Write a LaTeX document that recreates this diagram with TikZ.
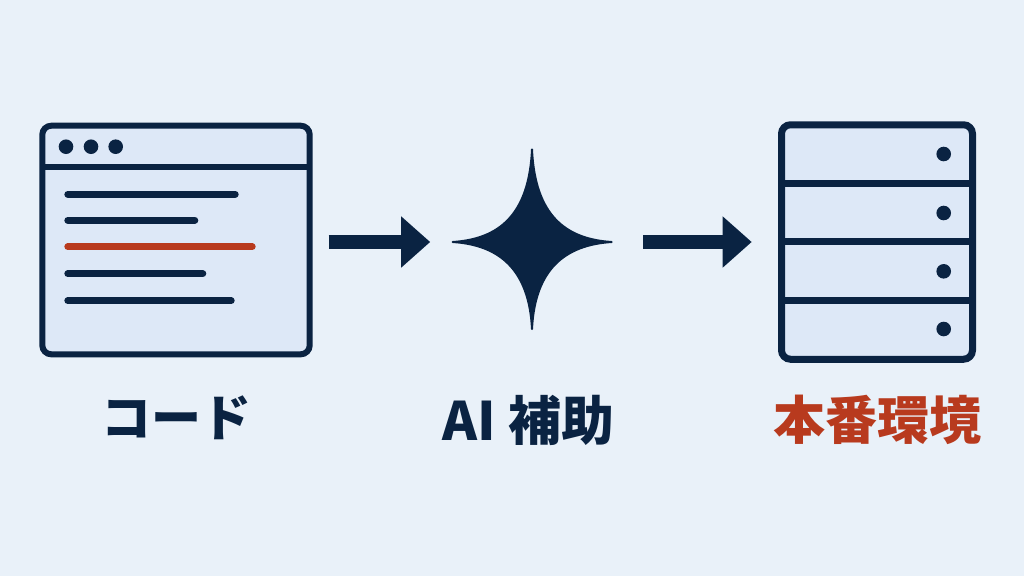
\documentclass[tikz,border=0pt]{standalone}
\usepackage{fontspec}
\newfontfamily\cjk{Noto Sans CJK JP}
\usepackage{tikz}
\usetikzlibrary{ % tikz packages
    positioning,
    arrows.meta
}
\definecolor{pagebg}{HTML}{E9F1F9}
\definecolor{panelbg}{HTML}{DDE8F7}
\definecolor{navy}{HTML}{0A2342}
\definecolor{rust}{HTML}{B83A1E}
\tikzset{iconbox/.style={
    draw=navy,
    fill=panelbg,
    rounded corners=9pt,
    inner sep=0pt,
    outer sep=0pt
}}
\tikzset{dotmark/.style={
    circle,
    fill=navy,
    inner sep=0pt,
    minimum size=14.6pt
}}
\tikzset{codeline/.style={
    line width=7pt,
    line cap=round
}}
\tikzset{blockarrow/.style={
    draw=navy,
    line width=14.3pt,
    -{Triangle[length=29pt,width=49.4pt]}
}}
\tikzset{caption/.style={
    font=\cjk\bfseries\fontsize{52pt}{52pt}\selectfont,
    text=navy,
    inner sep=0pt
}}

\begin{document}
\begin{tikzpicture}[x=1pt,y=-1pt,on grid]
        \path[fill=pagebg,use as bounding box] (0,0) rectangle (1024,576);

        \node[iconbox, line width=6pt, minimum width=267.4pt, minimum height=228.6pt] (window) at (176,240) {};
        \node[minimum width=161pt, minimum height=182pt, inner sep=0pt, outer sep=0pt] (spark) [right=356.2pt of window, yshift=-2pt] {};
        \node[iconbox, line width=7pt, minimum width=191pt, minimum height=234.5pt] (server) [right=344.8pt of spark] {};

        % window
        \draw[navy, line width=6pt] (window.west |- 0,166.7) -- (window.east |- 0,166.7);
        \foreach \i/\x in {1/66,2/91,3/115.7}
            \node[dotmark] (winDot\i) at (\x,146.7) {};
        \foreach \y/\e/\c in {194.3/238.7/navy,220.3/198.3/navy,246.7/255.7/rust,273.7/206.3/navy,300.7/234.7/navy}
            \draw[codeline, \c] (67.8,\y) -- (\e-3.5,\y);

        % spark
        \fill[navy, draw=navy, line width=2pt, line join=round]
            (532,149.3)
            .. controls (535,215) and (565,239) .. (611.7,242)
            .. controls (565,245) and (535,269) .. (532,329)
            .. controls (529,269) and (499,245) .. (452.7,242)
            .. controls (499,239) and (529,215) .. (532,149.3)
            -- cycle;

        % server
        \foreach \y in {183.7,241.7,300}
            \draw[navy, line width=7pt] (server.west |- 0,\y) -- (server.east |- 0,\y);
        \foreach \i/\y in {1/154,2/213,3/271.3,4/329}
            \node[dotmark] (srvDot\i) at (943.7,\y) {};

        % arrows
        \draw[blockarrow, shorten <=19pt, shorten >=21.5pt] (window.east |- spark.west) -- (spark.west);
        \draw[blockarrow, shorten <=30.6pt, shorten >=29.8pt] (spark.east) -- (server.west);

        % labels
        \node[caption, font=\cjk\bfseries\fontsize{50pt}{50pt}\selectfont] (codeLabel) [below=177.5pt of window] {コード};
        \node[caption, font=\cjk\bfseries\fontsize{53pt}{53pt}\selectfont] (aiLabel) [below=178pt of spark, xshift=-4pt] {AI 補助};
        \node[caption, text=rust] (prodLabel) [below=178pt of server] {本番環境};
    \end{tikzpicture}
\end{document}
